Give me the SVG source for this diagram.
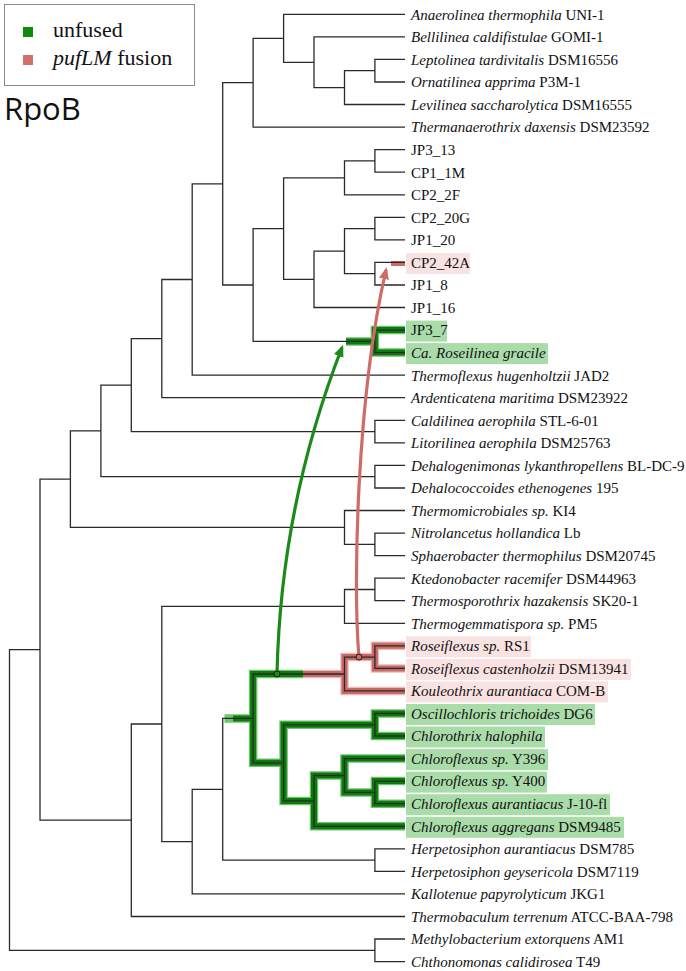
<svg xmlns="http://www.w3.org/2000/svg" width="686" height="971" viewBox="0 0 686 971">
<style>
.t{font-family:"Liberation Serif","Times New Roman",serif;font-size:15px;fill:#111}
.i{font-style:italic}
.tree{fill:none;stroke:#2a2a2a;stroke-width:1.3}
.gh{fill:none;stroke:#6cc46c;stroke-width:8.5}
.gb{fill:none;stroke:#0d7a0d;stroke-width:6}
.rh{fill:none;stroke:#eeb9b6;stroke-width:8.5}
.rb{fill:none;stroke:#c76a66;stroke-width:6}
.bg{fill:#aadcaa}
.bp{fill:#f9e2e2}
.ga{fill:none;stroke:#1b8a1b;stroke-width:3.2}
.ra{fill:none;stroke:#cd6b67;stroke-width:3.2}
</style>
<defs>
<marker id="ahg" markerUnits="userSpaceOnUse" markerWidth="13" markerHeight="11" refX="9" refY="5" orient="auto"><path d="M0,0 L12,5 L0,10 z" fill="#1b8a1b"/></marker>
<marker id="ahr" markerUnits="userSpaceOnUse" markerWidth="13" markerHeight="11" refX="9" refY="5" orient="auto"><path d="M0,0 L12,5 L0,10 z" fill="#cd6b67"/></marker>
</defs>
<rect width="686" height="971" fill="#fff"/>
<g id="legend">
<rect x="4.5" y="4.5" width="190" height="81" fill="#fff" stroke="#8a8a8a" stroke-width="1"/>
<rect x="23" y="27" width="10" height="10" fill="#0c8a0c"/>
<rect x="23" y="55" width="10" height="10" fill="#d2706b"/>
<text x="53" y="37" style="font-family:'Liberation Serif',serif;font-size:22px;fill:#111">unfused</text>
<text x="53" y="65" style="font-family:'Liberation Serif',serif;font-size:22px;fill:#111"><tspan font-style="italic">pufLM</tspan> fusion</text>
</g>
<g id="title"><text x="4" y="120" style="font-family:'Open Sans',sans-serif;font-size:31px;fill:#111">RpoB</text></g>
<g id="label-boxes">
<rect class="bp" x="406" y="252.9" width="64" height="21"/>
<rect class="bg" x="406" y="320.6" width="41" height="21"/>
<rect class="bg" x="406" y="343.1" width="142" height="21"/>
<rect class="bp" x="406" y="636.3" width="125" height="21"/>
<rect class="bp" x="406" y="658.9" width="225" height="21"/>
<rect class="bp" x="406" y="681.4" width="202" height="21"/>
<rect class="bg" x="406" y="704" width="189" height="21"/>
<rect class="bg" x="406" y="726.5" width="139" height="21"/>
<rect class="bg" x="406" y="749.1" width="142" height="21"/>
<rect class="bg" x="406" y="771.6" width="141" height="21"/>
<rect class="bg" x="406" y="794.2" width="204" height="21"/>
<rect class="bg" x="406" y="816.8" width="218" height="21"/>
</g>
<g id="connectors">
<g id="highlight-green">
<path class="gh" d="M405,330.1 H374.9 V352.6 H405 M346,341.4 H374.9 M405,713.5 H374.9 V736 H405 M405,781.1 H374.9 V803.7 H405 M405,758.6 H344.5 V792.4 H374.9 M344.5,775.5 H314 V826.3 H405 M374.9,724.8 H283.6 V800.9 H314 M303,674 H253.1 V762.8 H283.6 M253.1,718.4 H224.5"/>
<path class="gb" d="M405,330.1 H374.9 V352.6 H405 M346,341.4 H374.9 M405,713.5 H374.9 V736 H405 M405,781.1 H374.9 V803.7 H405 M405,758.6 H344.5 V792.4 H374.9 M344.5,775.5 H314 V826.3 H405 M374.9,724.8 H283.6 V800.9 H314 M303,674 H253.1 V762.8 H283.6 M253.1,718.4 H233"/>
</g>
<g id="highlight-red">
<path class="rh" d="M405,645.8 H374.9 V668.4 H405 M374.9,657.1 H344.5 V690.9 H405 M303,674 H344.5"/>
<path class="rb" d="M405,645.8 H374.9 V668.4 H405 M374.9,657.1 H344.5 V690.9 H405 M303,674 H344.5"/>
<path d="M391,263.5 H405" stroke="#cd6b67" stroke-width="5" fill="none"/>
</g>
<path class="tree" d="M405,59.4 H374.9 V82 H405 M374.9,70.7 H344.5 V104.5 H405 M405,36.9 H314 V87.6 H344.5 M405,14.3 H283.6 V62.3 H314 M283.6,38.3 H253.1 V127.1 H405 M405,149.6 H374.9 V172.2 H405 M374.9,160.9 H344.5 V194.8 H405 M405,217.3 H374.9 V239.9 H405 M405,262.4 H374.9 V285 H405 M374.9,228.6 H344.5 V273.7 H374.9 M344.5,251.2 H314 V307.5 H405 M344.5,177.9 H283.6 V279.4 H314 M405,330.1 H374.9 V352.6 H405 M283.6,228.6 H253.1 V341.4 H374.9 M253.1,82.7 H222.7 V285 H253.1 M222.7,183.8 H192.2 V375.2 H405 M192.2,279.5 H161.8 V397.7 H405 M405,420.3 H374.9 V442.8 H405 M161.8,338.6 H131.3 V431.6 H374.9 M405,465.4 H374.9 V488 H405 M131.3,385.1 H100.9 V476.7 H374.9 M405,533.1 H374.9 V555.6 H405 M405,510.5 H344.5 V544.4 H374.9 M100.9,430.9 H70.4 V527.4 H344.5 M405,578.2 H374.9 V600.7 H405 M374.9,589.5 H344.5 V623.3 H405 M405,645.8 H374.9 V668.4 H405 M374.9,657.1 H344.5 V690.9 H405 M405,713.5 H374.9 V736 H405 M405,781.1 H374.9 V803.7 H405 M405,758.6 H344.5 V792.4 H374.9 M344.5,775.5 H314 V826.3 H405 M374.9,724.8 H283.6 V800.9 H314 M344.5,674 H253.1 V762.8 H283.6 M405,848.8 H374.9 V871.4 H405 M253.1,718.4 H222.7 V860.1 H374.9 M222.7,789.3 H192.2 V893.9 H405 M344.5,606.4 H161.8 V841.6 H192.2 M161.8,724 H131.3 V916.5 H405 M70.4,479.2 H40 V820.2 H131.3 M405,939 H374.9 V961.6 H405 M40,649.7 H9.5 V950.3 H374.9"/>
<path id="arrow-unfused" class="ga" d="M277,674 A958,958 0 0 1 342,347.5" marker-end="url(#ahg)"/>
<path id="arrow-fusion" class="ra" d="M359,657.1 C353,590 356,400 386,270" marker-end="url(#ahr)"/>
<circle cx="277" cy="674" r="3" fill="#1b8a1b" stroke="#1a1a1a" stroke-width="1"/>
<circle cx="359" cy="657.1" r="3" fill="#cd6b67" stroke="#1a1a1a" stroke-width="1"/>
</g>
<g id="leaves" class="t">
<g id="n1"><text x="411" y="19.6"><tspan class="i">Anaerolinea thermophila</tspan> UNI-1</text></g>
<g id="n2"><text x="411" y="42.2"><tspan class="i">Bellilinea caldifistulae</tspan> GOMI-1</text></g>
<g id="n3"><text x="411" y="64.7"><tspan class="i">Leptolinea tardivitalis</tspan> DSM16556</text></g>
<g id="n4"><text x="411" y="87.3"><tspan class="i">Ornatilinea apprima</tspan> P3M-1</text></g>
<g id="n5"><text x="411" y="109.8"><tspan class="i">Levilinea saccharolytica</tspan> DSM16555</text></g>
<g id="n6"><text x="411" y="132.4"><tspan class="i">Thermanaerothrix daxensis</tspan> DSM23592</text></g>
<g id="n7"><text x="411" y="154.9">JP3_13</text></g>
<g id="n8"><text x="411" y="177.5">CP1_1M</text></g>
<g id="n9"><text x="411" y="200.1">CP2_2F</text></g>
<g id="n10"><text x="411" y="222.6">CP2_20G</text></g>
<g id="n11"><text x="411" y="245.2">JP1_20</text></g>
<g id="n12"><text x="411" y="267.7">CP2_42A</text></g>
<g id="n13"><text x="411" y="290.3">JP1_8</text></g>
<g id="n14"><text x="411" y="312.8">JP1_16</text></g>
<g id="n15"><text x="411" y="335.4">JP3_7</text></g>
<g id="n16"><text x="411" y="357.9"><tspan class="i">Ca. Roseilinea gracile</tspan></text></g>
<g id="n17"><text x="411" y="380.5"><tspan class="i">Thermoflexus hugenholtzii</tspan> JAD2</text></g>
<g id="n18"><text x="411" y="403"><tspan class="i">Ardenticatena maritima</tspan> DSM23922</text></g>
<g id="n19"><text x="411" y="425.6"><tspan class="i">Caldilinea aerophila</tspan> STL-6-01</text></g>
<g id="n20"><text x="411" y="448.1"><tspan class="i">Litorilinea aerophila</tspan> DSM25763</text></g>
<g id="n21"><text x="411" y="470.7"><tspan class="i">Dehalogenimonas lykanthropellens</tspan> BL-DC-9</text></g>
<g id="n22"><text x="411" y="493.3"><tspan class="i">Dehalococcoides ethenogenes</tspan> 195</text></g>
<g id="n23"><text x="411" y="515.8"><tspan class="i">Thermomicrobiales sp.</tspan> KI4</text></g>
<g id="n24"><text x="411" y="538.4"><tspan class="i">Nitrolancetus hollandica</tspan> Lb</text></g>
<g id="n25"><text x="411" y="560.9"><tspan class="i">Sphaerobacter thermophilus</tspan> DSM20745</text></g>
<g id="n26"><text x="411" y="583.5"><tspan class="i">Ktedonobacter racemifer</tspan> DSM44963</text></g>
<g id="n27"><text x="411" y="606"><tspan class="i">Thermosporothrix hazakensis</tspan> SK20-1</text></g>
<g id="n28"><text x="411" y="628.6"><tspan class="i">Thermogemmatispora sp.</tspan> PM5</text></g>
<g id="n29"><text x="411" y="651.1"><tspan class="i">Roseiflexus sp.</tspan> RS1</text></g>
<g id="n30"><text x="411" y="673.7"><tspan class="i">Roseiflexus castenholzii</tspan> DSM13941</text></g>
<g id="n31"><text x="411" y="696.2"><tspan class="i">Kouleothrix aurantiaca</tspan> COM-B</text></g>
<g id="n32"><text x="411" y="718.8"><tspan class="i">Oscillochloris trichoides</tspan> DG6</text></g>
<g id="n33"><text x="411" y="741.3"><tspan class="i">Chlorothrix halophila</tspan></text></g>
<g id="n34"><text x="411" y="763.9"><tspan class="i">Chloroflexus sp.</tspan> Y396</text></g>
<g id="n35"><text x="411" y="786.4"><tspan class="i">Chloroflexus sp.</tspan> Y400</text></g>
<g id="n36"><text x="411" y="809"><tspan class="i">Chloroflexus aurantiacus</tspan> J-10-fl</text></g>
<g id="n37"><text x="411" y="831.6"><tspan class="i">Chloroflexus aggregans</tspan> DSM9485</text></g>
<g id="n38"><text x="411" y="854.1"><tspan class="i">Herpetosiphon aurantiacus</tspan> DSM785</text></g>
<g id="n39"><text x="411" y="876.7"><tspan class="i">Herpetosiphon geysericola</tspan> DSM7119</text></g>
<g id="n40"><text x="411" y="899.2"><tspan class="i">Kallotenue papyrolyticum</tspan> JKG1</text></g>
<g id="n41"><text x="411" y="921.8"><tspan class="i">Thermobaculum terrenum</tspan> ATCC-BAA-798</text></g>
<g id="n42"><text x="411" y="944.3"><tspan class="i">Methylobacterium extorquens</tspan> AM1</text></g>
<g id="n43"><text x="411" y="966.9"><tspan class="i">Chthonomonas calidirosea</tspan> T49</text></g>
</g>
</svg>
